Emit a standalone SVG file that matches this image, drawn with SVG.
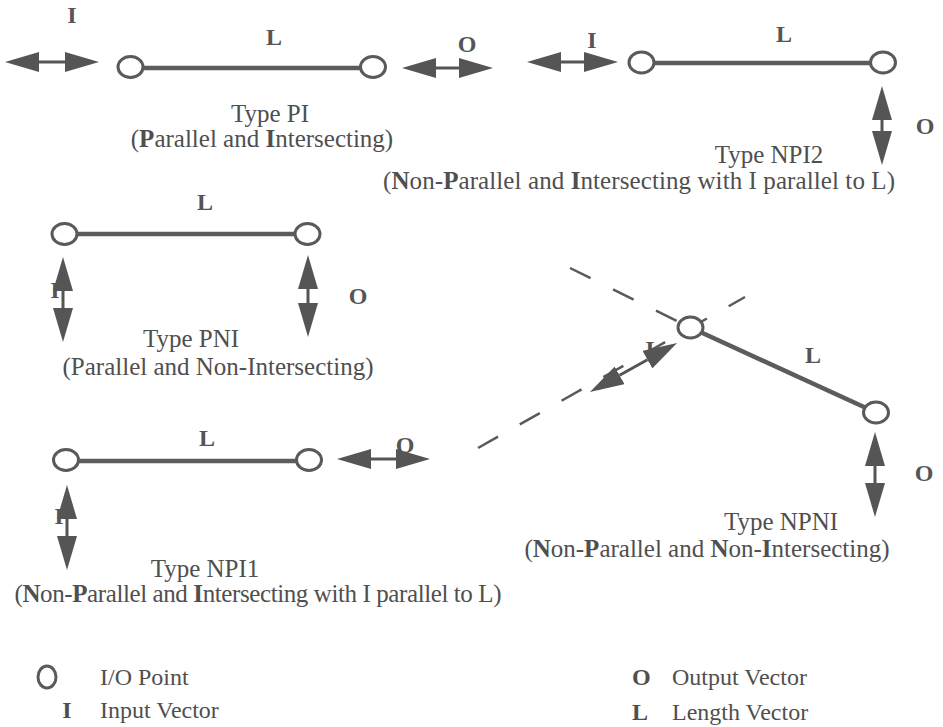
<svg xmlns="http://www.w3.org/2000/svg" width="943" height="727" viewBox="0 0 943 727">
  <style>
    text { font-family: "Liberation Serif", "Times New Roman", serif; fill: #4f4f4f; }
    .cap { font-size: 25px; text-anchor: middle; }
    .lbl { font-size: 24px; font-weight: bold; text-anchor: middle; fill: #555; }
    .b { font-weight: bold; }
    .leg { font-size: 24px; }
    .pt { fill: #fff; stroke: #5a5a5a; stroke-width: 3; }
    .len { stroke: #5c5c5c; stroke-width: 4.5; fill: none; }
    .vec { stroke: #555; stroke-width: 3; marker-start: url(#head); marker-end: url(#head); }
    .dash { stroke: #5a5a5a; stroke-width: 2.5; stroke-dasharray: 23 25; fill: none; }
  </style>
  <defs>
    <!-- arrowhead whose base sits on the line end and points outward -->
    <marker id="head" viewBox="0 0 34 20" markerWidth="34" markerHeight="20" refX="0" refY="10" orient="auto-start-reverse" markerUnits="userSpaceOnUse">
      <path d="M0,0 L34,10 L0,20 Z" fill="#555"/>
    </marker>
  </defs>

  <rect width="943" height="727" fill="#fff"/>

  <!-- Type PI -->
  <g id="type-pi">
    <line class="len" x1="143" y1="68" x2="360" y2="68"/>
    <ellipse class="pt" cx="130.5" cy="67" rx="12.5" ry="10.5"/>
    <ellipse class="pt" cx="373" cy="67" rx="12.5" ry="10.5"/>
    <text class="lbl" x="72" y="23">I</text>
    <text class="lbl" x="274" y="45">L</text>
    <text class="lbl" x="467" y="52">O</text>
    <text class="cap" x="270" y="122">Type PI</text>
    <text class="cap" x="262" y="147">(<tspan class="b">P</tspan>arallel and <tspan class="b">I</tspan>ntersecting)</text>
  </g>

  <!-- Type NPI2 -->
  <g id="type-npi2">
    <line class="len" x1="654" y1="63" x2="870" y2="63"/>
    <ellipse class="pt" cx="641.5" cy="62.5" rx="12.5" ry="10.5"/>
    <ellipse class="pt" cx="883" cy="62.5" rx="12.5" ry="10.5"/>
    <text class="lbl" x="592" y="48">I</text>
    <text class="lbl" x="784" y="42">L</text>
    <text class="lbl" x="925" y="134">O</text>
    <text class="cap" x="769" y="163">Type NPI2</text>
    <text class="cap" x="639" y="189" textLength="512">(<tspan class="b">N</tspan>on-<tspan class="b">P</tspan>arallel and <tspan class="b">I</tspan>ntersecting with I parallel to L)</text>
  </g>

  <!-- Type PNI -->
  <g id="type-pni">
    <line class="len" x1="77" y1="234" x2="295" y2="234"/>
    <ellipse class="pt" cx="64.5" cy="234" rx="12.5" ry="10.5"/>
    <ellipse class="pt" cx="307.5" cy="234" rx="12.5" ry="10.5"/>
    <text class="lbl" x="205" y="210">L</text>
    <text class="lbl" x="55" y="298">I</text>
    <text class="lbl" x="358" y="304">O</text>
    <text class="cap" x="191" y="347">Type PNI</text>
    <text class="cap" x="218" y="375">(Parallel and Non-Intersecting)</text>
  </g>

  <!-- Type NPNI -->
  <g id="type-npni">
    <line class="dash" x1="570" y1="268" x2="679" y2="322"/>
    <line class="dash" x1="478" y1="448" x2="745" y2="297"/>
    <line class="len" x1="690.5" y1="327.5" x2="876" y2="412.5" stroke-width="7"/>
    <ellipse class="pt" cx="690.5" cy="327.5" rx="12.5" ry="10.5"/>
    <ellipse class="pt" cx="876" cy="412.5" rx="12.5" ry="10.5"/>
    <text class="lbl" x="650" y="357">I</text>
    <text class="lbl" x="813" y="363">L</text>
    <text class="lbl" x="924" y="481">O</text>
    <text class="cap" x="781" y="530">Type NPNI</text>
    <text class="cap" x="707" y="557">(<tspan class="b">N</tspan>on-<tspan class="b">P</tspan>arallel and <tspan class="b">N</tspan>on-<tspan class="b">I</tspan>ntersecting)</text>
  </g>

  <!-- Type NPI1 -->
  <g id="type-npi1">
    <line class="len" x1="79" y1="461" x2="296" y2="461"/>
    <ellipse class="pt" cx="66" cy="460" rx="12.5" ry="10.5"/>
    <ellipse class="pt" cx="309" cy="460" rx="12.5" ry="10.5"/>
    <text class="lbl" x="207" y="446">L</text>
    <text class="lbl" x="405" y="453">O</text>
    <text class="lbl" x="59" y="524">I</text>
    <text class="cap" x="205" y="577">Type NPI1</text>
    <text class="cap" x="258" y="602" textLength="487">(<tspan class="b">N</tspan>on-<tspan class="b">P</tspan>arallel and <tspan class="b">I</tspan>ntersecting with I parallel to L)</text>
  </g>

  <!-- input / output vectors (double-headed) -->
  <g id="connectors">
    <line class="vec" x1="39" y1="62" x2="65" y2="62"/>
    <line class="vec" x1="436" y1="68" x2="459" y2="68"/>
    <line class="vec" x1="561" y1="62" x2="584" y2="62"/>
    <line class="vec" x1="882" y1="120" x2="882" y2="131"/>
    <line class="vec" x1="63" y1="291" x2="63" y2="308"/>
    <line class="vec" x1="308" y1="289" x2="308" y2="303"/>
    <line class="vec" x1="371" y1="459" x2="396" y2="459"/>
    <line class="vec" x1="67" y1="519" x2="67" y2="536"/>
    <line class="vec" x1="875" y1="466" x2="875" y2="483"/>
    <line class="vec" x1="619.6" y1="375.3" x2="647.4" y2="359.7"/>
  </g>

  <!-- legend -->
  <g id="legend">
    <ellipse cx="47" cy="677" rx="9" ry="11" fill="none" stroke="#5a5a5a" stroke-width="3"/>
    <text class="leg" x="100" y="685">I/O Point</text>
    <text class="leg b" x="67" y="718" text-anchor="middle" font-size="22">I</text>
    <text class="leg" x="100" y="718">Input Vector</text>
    <text class="leg b" x="632" y="685" font-size="22">O</text>
    <text class="leg" x="672" y="685">Output Vector</text>
    <text class="leg b" x="632" y="720" font-size="22">L</text>
    <text class="leg" x="672" y="720">Length Vector</text>
  </g>
</svg>
